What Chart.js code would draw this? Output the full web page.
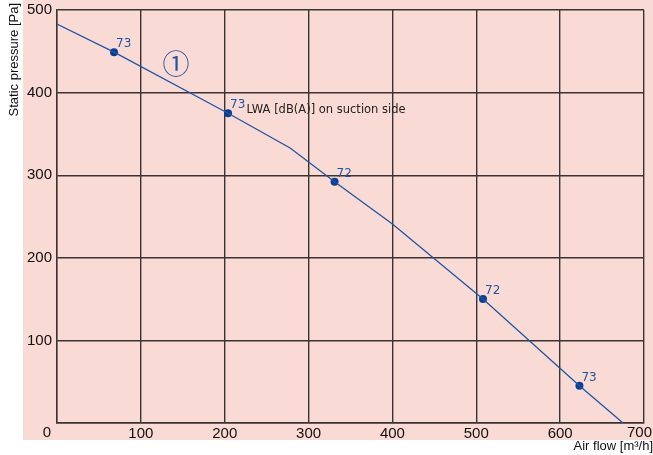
<!DOCTYPE html>
<html>
<head>
<meta charset="utf-8">
<script src="https://cdn.jsdelivr.net/npm/chart.js@4.4.0/dist/chart.umd.min.js"></script>
<style>
  html, body { margin: 0; padding: 0; background: #fff; }
  #wrap { width: 653px; height: 455px; }
</style>
</head>
<body>
<div id="wrap"><canvas id="fanChart" width="653" height="455"></canvas></div>
<script>
// Data
const curveFlow = [0, 68, 204, 278, 331, 400, 508, 623, 675];
const curvePressure = [483, 449, 375, 333, 292, 241, 150, 45, 0];

// Measured points with sound power level
const pointFlow = [68, 204, 331, 508, 623];
const pointPressure = [449, 375, 292, 150, 45];
const soundLevel = ['73', '73', '72', '72', '73'];

const xTicks = [0, 100, 200, 300, 400, 500, 600, 700];
const yTicks = [0, 100, 200, 300, 400, 500];

const PINK = '#fadad4';
const BLUE = '#1f55a3';
const GRID = '#3a3333';
const TICK_FONT = '15px "Liberation Sans", Arial, sans-serif';

// Background, titles, annotations
const decorPlugin = {
    id: 'decor',
    beforeDraw(chart) {
        const { ctx, chartArea: a } = chart;
        ctx.save();
        ctx.fillStyle = PINK;
        ctx.fillRect(a.left - 34, 0, chart.width, a.bottom + 17);
        ctx.restore();
    },
    afterDraw(chart) {
        const { ctx, chartArea: a } = chart;
        ctx.save();
        // y title
        ctx.fillStyle = '#111';
        ctx.font = '13px "Liberation Sans", Arial, sans-serif';
        ctx.translate(14, 3);
        ctx.rotate(-Math.PI / 2);
        ctx.textAlign = 'right';
        ctx.textBaseline = 'middle';
        ctx.fillText('Static pressure [Pa]', 0, 0);
        ctx.restore();

        ctx.save();
        ctx.fillStyle = '#111';
        ctx.font = '13px "Liberation Sans", Arial, sans-serif';
        ctx.textAlign = 'right';
        ctx.textBaseline = 'alphabetic';
        ctx.fillText('Air flow [m³/h]', chart.width, a.bottom + 27);

        // end labels of the x axis
        ctx.font = TICK_FONT;
        ctx.textBaseline = 'middle';
        ctx.textAlign = 'center';
        ctx.fillText(String(xTicks[0]), a.left - 10, a.bottom + 10);
        ctx.textAlign = 'right';
        ctx.fillText(String(xTicks[xTicks.length - 1]), chart.width - 1, a.bottom + 10);

        // point labels
        const meta = chart.getDatasetMeta(1);
        ctx.fillStyle = BLUE;
        ctx.font = '12px "DejaVu Sans", Verdana, sans-serif';
        ctx.textAlign = 'left';
        ctx.textBaseline = 'alphabetic';
        meta.data.forEach((pt, i) => {
            ctx.fillText(soundLevel[i], pt.x + 2, pt.y - 5);
        });

        const xs = chart.scales.x, ys = chart.scales.y;
        // curve number
        ctx.font = '27px "Noto Sans CJK JP", "DejaVu Sans", sans-serif';
        ctx.textAlign = 'center';
        ctx.textBaseline = 'middle';
        ctx.fillText('①', xs.getPixelForValue(142), ys.getPixelForValue(435));

        ctx.fillStyle = '#222';
        ctx.font = '11.5px "DejaVu Sans", Verdana, sans-serif';
        ctx.textAlign = 'left';
        ctx.fillText('LWA [dB(A)] on suction side', xs.getPixelForValue(226), ys.getPixelForValue(379));
        ctx.restore();
    }
};

new Chart(document.getElementById('fanChart'), {
    type: 'scatter',
    data: {
        datasets: [{
            data: curveFlow.map((f, i) => ({ x: f, y: curvePressure[i] })),
            showLine: true,
            borderColor: BLUE,
            borderWidth: 1.3,
            pointRadius: 0,
            tension: 0
        }, {
            data: pointFlow.map((f, i) => ({ x: f, y: pointPressure[i] })),
            showLine: false,
            pointRadius: 4,
            pointBackgroundColor: '#0b3f91',
            pointBorderWidth: 0
        }]
    },
    options: {
        responsive: false,
        animation: false,
        layout: { padding: { left: 0, top: 10, right: 9, bottom: 0 } },
        plugins: { legend: { display: false }, tooltip: { enabled: false } },
        scales: {
            x: {
                type: 'linear',
                min: 0, max: 700,
                afterBuildTicks: s => { s.ticks = xTicks.map(v => ({ value: v })); },
                afterFit: s => { s.height = 32; s.paddingLeft = 0; s.paddingRight = 0; },
                grid: { color: GRID, lineWidth: 1.4, drawTicks: false },
                border: { color: GRID, width: 1.4 },
                ticks: {
                    color: '#111',
                    padding: 2,
                    font: { family: '"Liberation Sans", Arial, sans-serif', size: 15 },
                    callback: v => (v === 0 || v === 700) ? '' : v
                }
            },
            y: {
                min: 0, max: 500,
                afterBuildTicks: s => { s.ticks = yTicks.map(v => ({ value: v })); },
                afterFit: s => { s.width = 57; s.paddingTop = 0; s.paddingBottom = 0; },
                grid: { color: GRID, lineWidth: 1.4, drawTicks: false },
                border: { color: GRID, width: 1.4 },
                ticks: {
                    color: '#111',
                    padding: 5,
                    font: { family: '"Liberation Sans", Arial, sans-serif', size: 15 },
                    callback: v => v === 0 ? '' : v
                }
            }
        }
    },
    plugins: [decorPlugin]
});
</script>
</body>
</html>
